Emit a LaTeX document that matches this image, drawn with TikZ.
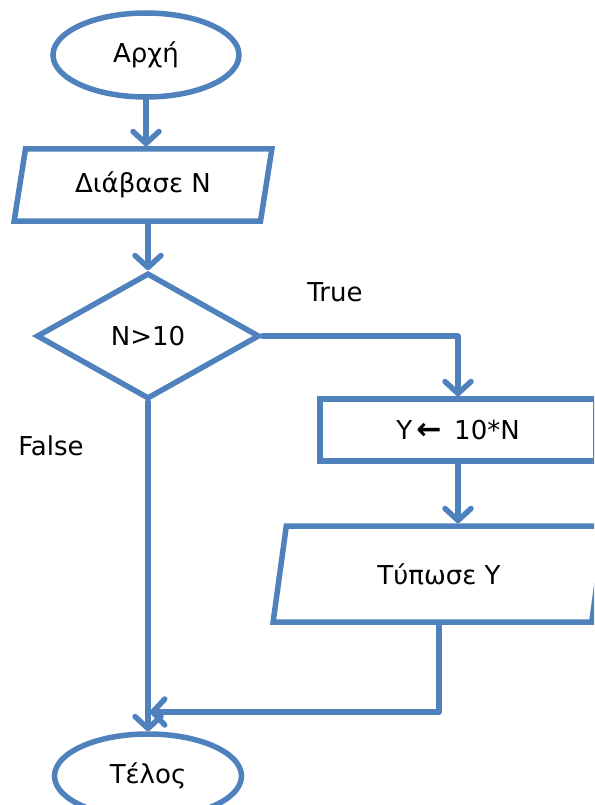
\documentclass[tikz,border=0pt]{standalone}
\usepackage{fontspec}
\setmainfont{DejaVu Sans}
\usetikzlibrary{shapes.geometric,arrows.meta}
\definecolor{fc}{RGB}{79,129,189}
\begin{document}
\begin{tikzpicture}[x=1pt,y=1pt,
 every node/.style={font=\fontsize{26}{30}\selectfont},
 shapeline/.style={draw=fc, line width=5.5pt, inner sep=0pt},
 term/.style={shapeline, ellipse, minimum width=186pt, minimum height=84pt},
 io/.style={shapeline, trapezium, trapezium left angle=76, trapezium right angle=104, trapezium stretches=true},
 dec/.style={shapeline, diamond, minimum width=223pt, minimum height=126pt, aspect=1.76},
 proc/.style={shapeline, rectangle, minimum width=276pt, minimum height=62pt},
 flow/.style={draw=fc, line width=5.5pt, line join=round, line cap=round,
   -{Straight Barb[round,length=12pt,width=26pt]}}
]
\useasboundingbox (0,0) rectangle (594,-805);
\clip (0,0) rectangle (594,-805);
\node[term] (start) at (146,-55) {Αρχή};
\node[io, minimum width=258pt, minimum height=72pt] (read) at (143,-185) {Διάβασε Ν};
\node[dec] (cond) at (148,-336) {N>10};
\node[proc] (assign) at (458,-430) {Y\,{\fontsize{30}{30}\selectfont\bfseries ←}\, 10*N};
\node[io, minimum width=332pt, minimum height=96pt] (print) at (439,-574) {Τύπωσε Υ};
\node[term, minimum width=187pt] (stop) at (148,-776) {Τέλος};
\node (true) at (335,-292) {True};
\node (false) at (51,-446) {False};
\coordinate (merge) at (cond.south |- 0,-712);
\draw[flow] (start.south) -- (start.south |- read.north);
\draw[flow] (read.south -| cond.north) -- (cond.north);
\draw[flow] (cond.east) -| (assign.north);
\draw[flow] (assign.south) -- (assign.south |- print.north);
\draw[flow, shorten >=2pt] (print.south) |- (merge);
\draw[flow] (cond.south) -- (stop.north);
\end{tikzpicture}
\end{document}
